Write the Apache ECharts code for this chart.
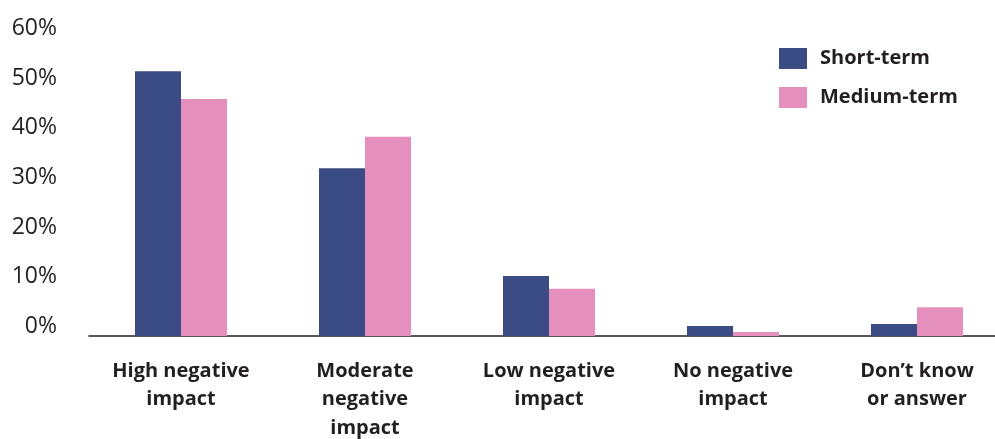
<!DOCTYPE html>
<html>
<head>
<meta charset="utf-8">
<script src="https://cdn.jsdelivr.net/npm/echarts@6/dist/echarts.min.js"></script>
<style>
html,body{margin:0;padding:0;background:#fff;}
#chart{width:995px;height:439px;}
</style>
</head>
<body>
<div id="chart"></div>
<script>
var categories = ['High negative\nimpact', 'Moderate\nnegative\nimpact', 'Low negative\nimpact', 'No negative\nimpact', 'Don\u2019t know\nor answer'];
var shortTerm = [53.3, 33.8, 12.1, 2.0, 2.4];
var mediumTerm = [47.7, 40.1, 9.5, 0.8, 5.8];
var seriesNames = ['Short-term', 'Medium-term'];
var yTicks = [0, 10, 20, 30, 40, 50, 60];

var chart = echarts.init(document.getElementById('chart'), null, {renderer: 'canvas'});
var textColor = '#231f20';
chart.setOption({
  animation: false,
  textStyle: {fontFamily: 'Open Sans'},
  legend: {
    orient: 'vertical',
    left: 779,
    top: 48,
    padding: 0,
    itemWidth: 28,
    itemHeight: 21,
    itemGap: 18,
    icon: 'rect',
    data: seriesNames,
    textStyle: {fontFamily: 'Open Sans', fontWeight: 'bold', fontSize: 20, color: textColor, padding: [0, 0, 0, 8]}
  },
  grid: {left: 89, top: 38, width: 920, height: 298, containLabel: false, outerBoundsMode: 'none'},
  xAxis: {
    type: 'category',
    data: categories,
    axisLine: {show: true, lineStyle: {color: textColor, width: 1.5}},
    axisTick: {show: false},
    axisLabel: {
      interval: 0,
      margin: 21,
      fontFamily: 'Open Sans',
      fontWeight: 'bold',
      fontSize: 20,
      lineHeight: 28.5,
      color: textColor
    }
  },
  yAxis: {
    type: 'value',
    min: yTicks[0],
    max: yTicks[yTicks.length - 1],
    interval: 10,
    axisLine: {show: false},
    axisTick: {show: false},
    splitLine: {show: false},
    axisLabel: {
      formatter: '{value}%',
      margin: 32,
      fontFamily: 'Open Sans',
      fontSize: 23,
      color: textColor,
      verticalAlign: 'bottom',
      lineHeight: 19
    }
  },
  series: [
    {name: seriesNames[0], type: 'bar', data: shortTerm, barWidth: 46, barGap: '0%', itemStyle: {color: '#3b4b84'}},
    {name: seriesNames[1], type: 'bar', data: mediumTerm, barWidth: 46, barGap: '0%', itemStyle: {color: '#e58fbd'}}
  ]
});
</script>
</body>
</html>
